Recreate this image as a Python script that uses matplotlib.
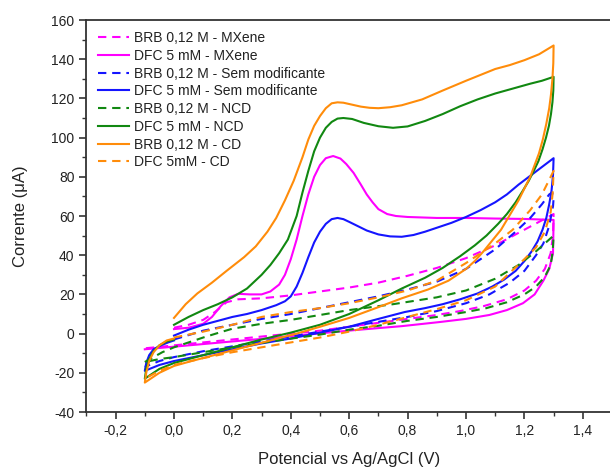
import matplotlib
matplotlib.use("Agg")
import matplotlib.pyplot as plt
from matplotlib.ticker import MultipleLocator, FuncFormatter

plt.rcParams['font.family'] = ['Liberation Sans', 'DejaVu Sans']
plt.rcParams['axes.unicode_minus'] = False

# ---- data (potential V, current uA) ----
mx_brb_v = [0.0, 0.05, 0.10, 0.14, 0.18, 0.22, 0.30, 0.40, 0.50, 0.60, 0.70, 0.80, 0.90, 1.00, 1.10, 1.20, 1.25, 1.30,
            1.298, 1.29, 1.27, 1.24, 1.20, 1.14, 1.06, 0.98, 0.90, 0.80, 0.70, 0.60, 0.50, 0.40, 0.30, 0.20, 0.10, 0.0, -0.05, -0.10]
mx_brb_i = [3, 4.5, 7, 11, 16, 17.5, 18, 19.5, 21.5, 23.5, 26, 29.5, 33.5, 38.5, 45, 53, 57, 61,
            50, 41, 33, 27, 22, 17.5, 14, 11.5, 9.5, 7.5, 5.5, 3.5, 1.5, 0, -1.5, -3, -4.5, -6, -6.8, -7.5]

mx_dfc_v = [0.0, 0.05, 0.10, 0.13, 0.16, 0.19, 0.22, 0.26, 0.30, 0.33, 0.36, 0.38, 0.40, 0.42, 0.44, 0.46, 0.48, 0.50, 0.52, 0.545,
            0.57, 0.59, 0.615, 0.64, 0.66, 0.68, 0.70, 0.73, 0.76, 0.80, 0.90, 1.00, 1.10, 1.20, 1.30,
            1.298, 1.285, 1.265, 1.235, 1.195, 1.14, 1.08, 1.00, 0.91, 0.78, 0.62, 0.44, 0.33, 0.20, 0.05, -0.10]
mx_dfc_i = [2.3, 3, 5, 8.5, 14, 18.5, 20.3, 20, 20, 21.5, 25, 30, 38, 48, 60, 71, 80, 86, 89.5, 90.6,
            89.3, 86.5, 82, 76, 71, 67, 63.5, 61, 60, 59.5, 59, 59, 58.7, 58.5, 58,
            41, 33, 27, 20, 15.5, 12, 9.5, 7.5, 5.9, 3.8, 1.8, -0.7, -2.3, -4, -6, -8]

sm_brb_v = [0.0, 0.1, 0.2, 0.3, 0.4, 0.5, 0.6, 0.7, 0.8, 0.9, 1.0, 1.1, 1.17, 1.22, 1.26, 1.285, 1.295, 1.30, 1.298,
            1.285, 1.265, 1.24, 1.20, 1.15, 1.08, 1.0, 0.9, 0.8, 0.7, 0.6, 0.5, 0.4, 0.3, 0.2, 0.1, 0.0, -0.05, -0.1]
sm_brb_i = [-3, 1.5, 4.5, 7.5, 10, 13, 16, 19, 22.5, 26.5, 33, 43, 52, 59, 66, 71, 72, 69, 65,
            55, 46, 40, 32, 26, 20, 15.5, 11.5, 8.5, 6, 3.5, 1, -1.5, -4, -6.5, -9, -12, -14, -17]

sm_dfc_v = [0.0, 0.05, 0.10, 0.15, 0.20, 0.25, 0.30, 0.35, 0.38, 0.40, 0.42, 0.44, 0.46, 0.48, 0.50, 0.52, 0.54, 0.56, 0.58, 0.60,
            0.63, 0.66, 0.70, 0.74, 0.78, 0.82, 0.86, 0.90, 0.95, 1.00, 1.05, 1.10, 1.14, 1.18, 1.22, 1.26, 1.30,
            1.298, 1.293, 1.285, 1.275, 1.262, 1.245, 1.225, 1.20, 1.17, 1.13, 1.09, 1.04, 0.98, 0.92, 0.86, 0.79, 0.70, 0.60, 0.50,
            0.40, 0.30, 0.20, 0.10, 0.0, -0.05, -0.10,
            -0.095, -0.085, -0.07, -0.045, -0.02, 0.0]
sm_dfc_i = [-1, 2, 4.5, 6.5, 8.5, 10, 12, 14.5, 16.5, 19, 24, 31, 39, 46.5, 52, 56, 58.4, 59, 58.4, 57,
            54.8, 52.6, 50.6, 49.6, 49.4, 50.3, 52, 54, 56.5, 59.5, 63, 67, 71, 76, 80.5, 85, 89.5,
            81, 73, 66, 59, 53, 47, 42, 37, 32, 27.5, 24, 20.5, 17.5, 15, 13, 11, 7.5, 3.5, 0.5,
            -2.5, -5, -8, -11, -14, -16, -19,
            -15, -11, -8, -6, -4.5, -3.5]

ncd_brb_v = [-0.10, -0.07, -0.04, 0.0, 0.05, 0.10, 0.15, 0.20, 0.30, 0.40, 0.50, 0.60, 0.75, 0.90, 1.00, 1.10, 1.18, 1.24, 1.30,
             1.297, 1.29, 1.27, 1.24, 1.20, 1.14, 1.07, 1.0, 0.9, 0.8, 0.7, 0.6, 0.5, 0.36, 0.2, 0.1, 0.0, -0.05, -0.10]
ncd_brb_i = [-14.5, -12, -9.5, -7, -4.5, -2, 0.3, 2.5, 5, 7, 9.5, 12, 15, 18.5, 22, 28, 35, 42, 50,
             42, 35, 29, 24, 20, 16, 13, 11, 8.5, 6.5, 4, 2, -0.5, -3.4, -7, -9.5, -12, -13, -14.5]

ncd_dfc_v = [0.0, 0.05, 0.10, 0.15, 0.20, 0.25, 0.30, 0.33, 0.36, 0.39, 0.42, 0.44, 0.46, 0.48, 0.50, 0.52, 0.54, 0.56, 0.58,
             0.61, 0.65, 0.70, 0.75, 0.80, 0.86, 0.92, 0.98, 1.04, 1.10, 1.16, 1.22, 1.26, 1.30,
             1.299, 1.296, 1.291, 1.284, 1.274, 1.262, 1.248, 1.232, 1.215, 1.195, 1.17, 1.14, 1.11, 1.07, 1.03, 0.98, 0.92, 0.86,
             0.78, 0.70, 0.60, 0.50, 0.40, 0.30, 0.20, 0.10, 0.0, -0.05, -0.10,
             -0.095, -0.085, -0.07, -0.05, -0.025, 0.0]
ncd_dfc_i = [4.5, 8.5, 12, 15, 18.5, 23, 30, 35, 41, 48, 60, 72, 83, 93, 100, 105, 108, 109.7, 110,
             109.5, 107.5, 105.8, 105, 105.7, 108.5, 112, 116, 119.5, 122.5, 125, 127.5, 129, 131,
             124, 118, 112, 106, 100, 94, 88, 83, 78, 73, 67, 61, 56, 50, 45, 39.5, 33.5, 28.5,
             23, 17, 10, 4.5, 0.5, -3, -7, -11, -15, -18, -23,
             -18, -13, -9, -6, -4, -3]

cd_brb_v = [0.0, 0.04, 0.08, 0.13, 0.18, 0.24, 0.28, 0.32, 0.35, 0.38, 0.41, 0.44, 0.46, 0.48, 0.50, 0.52, 0.54, 0.56, 0.58,
            0.61, 0.64, 0.67, 0.70, 0.74, 0.78, 0.85, 0.92, 1.00, 1.05, 1.10, 1.15, 1.20, 1.25, 1.30,
            1.299, 1.296, 1.291, 1.285, 1.275, 1.263, 1.25, 1.235, 1.22, 1.20, 1.18, 1.16, 1.14, 1.12, 1.09, 1.06, 1.03, 1.00,
            0.94, 0.87, 0.78, 0.70, 0.60, 0.50, 0.42, 0.33, 0.24, 0.15, 0.06, 0.0, -0.05, -0.10,
            -0.095, -0.085, -0.07, -0.05, -0.025, 0.0]
cd_brb_i = [8, 15, 20.5, 26, 32, 39, 44.5, 52, 59, 68, 78, 90, 99, 106, 111, 115, 117.5, 118, 117.8,
            116.8, 115.8, 115.2, 115, 115.5, 116.5, 119.5, 124, 129, 132, 135, 137, 139.5, 142.5, 147,
            138, 130, 122, 115, 107, 99, 92, 86, 80, 74, 68, 63, 58, 53, 47.5, 42, 37, 33,
            27, 22.5, 18, 13.5, 8, 3.5, 0, -3.5, -7, -10.5, -14, -16.5, -20, -25,
            -20, -14, -9.5, -6, -3.5, -2.5]

cd_dfc_v = [0.0, 0.1, 0.2, 0.3, 0.4, 0.5, 0.6, 0.7, 0.8, 0.9, 1.0, 1.1, 1.16, 1.22, 1.26, 1.30,
            1.297, 1.29, 1.27, 1.24, 1.20, 1.15, 1.10, 1.0, 0.9, 0.8, 0.7, 0.6, 0.5, 0.4, 0.3, 0.2, 0.1, 0.0, -0.05, -0.1]
cd_dfc_i = [-2, 1, 4.5, 8.5, 11, 13, 15.5, 18.5, 22, 27, 36, 46, 53, 63, 71, 83,
            72, 62, 52, 44, 38, 31, 24, 17, 12.5, 8.5, 4.5, 1, -2, -4.5, -7, -9.5, -12.5, -16, -19, -23]

labels = ["BRB 0,12 M - MXene", "DFC 5 mM - MXene",
          "BRB 0,12 M - Sem modificante", "DFC 5 mM - Sem modificante",
          "BRB 0,12 M - NCD", "DFC 5 mM - NCD",
          "BRB 0,12 M - CD", "DFC 5mM - CD"]
xticks = [-0.2, 0.0, 0.2, 0.4, 0.6, 0.8, 1.0, 1.2, 1.4]
yticks = [-40, -20, 0, 20, 40, 60, 80, 100, 120, 140, 160]

MAG, BLU, GRN, ORA = '#ff00ff', '#1515ff', '#118811', '#ff8c0a'
series = [
    (mx_brb_v, mx_brb_i, MAG, '--'),
    (mx_dfc_v, mx_dfc_i, MAG, '-'),
    (sm_brb_v, sm_brb_i, BLU, '--'),
    (sm_dfc_v, sm_dfc_i, BLU, '-'),
    (ncd_brb_v, ncd_brb_i, GRN, '--'),
    (ncd_dfc_v, ncd_dfc_i, GRN, '-'),
    (cd_brb_v, cd_brb_i, ORA, '-'),
    (cd_dfc_v, cd_dfc_i, ORA, '--'),
]

fig = plt.figure(figsize=(6.10, 4.71), dpi=100)
W, H = 610, 471
ax = fig.add_axes([86.4 / W, 59 / H, (612 - 86.4) / W, 392 / H])

for (v, i, c, ls), lab in zip(series, labels):
    kw = dict(color=c, lw=1.5, label=lab, solid_joinstyle='round')
    if ls == '--':
        kw['dashes'] = (4, 2.8)
    ax.plot(v, i, **kw)

ax.set_xlim(-0.3, 1.5)
ax.set_ylim(-40, 160)
ax.set_xticks(xticks)
ax.set_yticks(yticks)
ax.xaxis.set_minor_locator(MultipleLocator(0.1))
ax.yaxis.set_minor_locator(MultipleLocator(10))
ax.xaxis.set_major_formatter(FuncFormatter(lambda x, p: f"{round(x, 1):.1f}".replace('.', ',').replace('-0,0', '0,0')))
ax.yaxis.set_major_formatter(FuncFormatter(lambda y, p: f"{int(round(y))}"))

for s in ['left', 'bottom', 'top']:
    ax.spines[s].set_color('#333333')
    ax.spines[s].set_linewidth(1.3)
ax.spines['right'].set_visible(False)
ax.tick_params(which='major', direction='out', length=5, width=1.2, color='#333333',
               labelsize=10, labelcolor='#222222', top=False, right=False)
ax.tick_params(which='minor', direction='out', length=3, width=1.0, color='#333333',
               top=False, right=False)

ax.set_xlabel("Potencial vs Ag/AgCl (V)", fontsize=12, color='#222222', labelpad=10)
ax.set_ylabel("Corrente (\u03bcA)", fontsize=12, color='#222222', labelpad=17)

leg = ax.legend(loc='upper left', bbox_to_anchor=(0.0, 1.0), frameon=False, fontsize=10,
                handlelength=2.3, handletextpad=0.3, labelspacing=0.27, borderaxespad=0.4)
for t in leg.get_texts():
    t.set_color('#222222')

fig.savefig("out.png", dpi=100)
